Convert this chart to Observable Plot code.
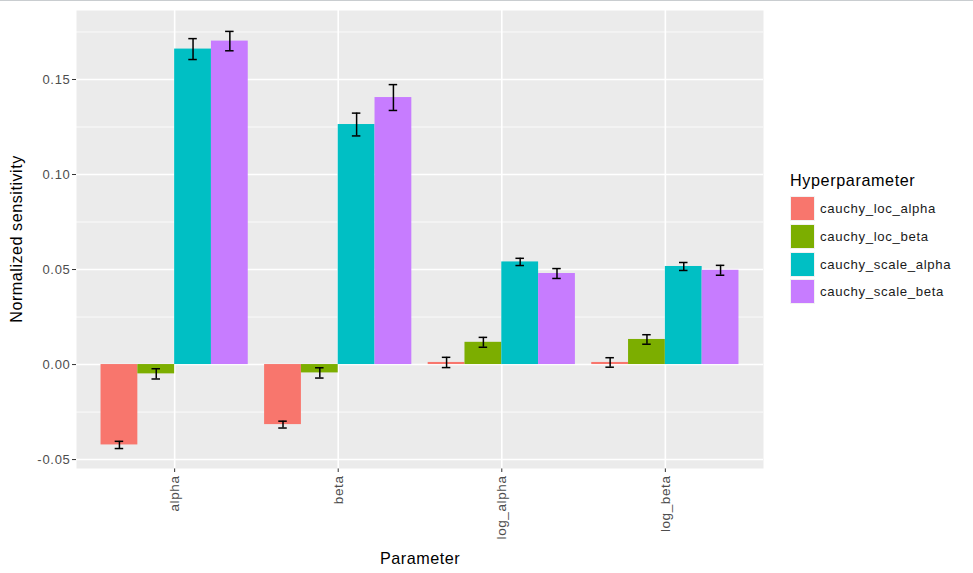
<!DOCTYPE html>
<html>
<head>
<meta charset="utf-8">
<script src="https://cdn.jsdelivr.net/npm/d3@7"></script>
<script src="https://cdn.jsdelivr.net/npm/@observablehq/plot@0.6"></script>
<style>
  html, body { margin: 0; padding: 0; background: #fff; }
  body { width: 973px; height: 573px; position: relative; overflow: hidden; font-family: "Liberation Sans", Arial, sans-serif; }
  #topline { position: absolute; left: 0; top: 0; width: 973px; height: 1px; background: #c9cdd0; }
  #chart { position: absolute; left: 0; top: 0; }
  #chart svg text { fill: #4D4D4D; font-size: 13px; letter-spacing: 0.7px; }
  #chart svg g[aria-label^='x-axis'] text { font-size: 13.5px; letter-spacing: 0.6px; }
  .title { position: absolute; color: #000; font-size: 16.2px; letter-spacing: 0.5px; white-space: nowrap; }
  #ytitle { left: 16px; top: 239px; transform: translate(-50%, -50%) rotate(-90deg); }
  #xtitle { left: 420px; top: 558px; transform: translate(-50%, -50%); }
  #legend { position: absolute; left: 790px; top: 171px; }
  #legend .lt { font-size: 16.2px; letter-spacing: 0.6px; color: #000; margin-bottom: 5px; }
  #legend .row { display: flex; align-items: center; height: 27.7px; }
  #legend .key { width: 25px; height: 25px; margin-right: 5px; box-sizing: border-box; border: 1px solid #f2f2f2; }
  #legend .lab { font-size: 13.2px; letter-spacing: 0.65px; color: #1a1a1a; }
</style>
</head>
<body>
<div id="topline"></div>
<div id="chart"></div>
<div class="title" id="ytitle">Normalized sensitivity</div>
<div class="title" id="xtitle">Parameter</div>
<div id="legend"></div>
<script>
const params = ["alpha", "beta", "log_alpha", "log_beta"];
const hypers = ["cauchy_loc_alpha", "cauchy_loc_beta", "cauchy_scale_alpha", "cauchy_scale_beta"];
const colors = ["#F8766D", "#7CAE00", "#00BFC4", "#C77CFF"];

const locAlpha = [-0.0423, -0.0316, 0.0011, 0.0011];
const locBeta = [-0.0049, -0.0044, 0.0117, 0.0132];
const scaleAlpha = [0.1660, 0.1263, 0.0540, 0.0516];
const scaleBeta = [0.1702, 0.1405, 0.0479, 0.0496];

const errLocAlpha = [0.0019, 0.0018, 0.0027, 0.0025];
const errLocBeta = [0.0027, 0.0027, 0.0026, 0.0025];
const errScaleAlpha = [0.0055, 0.0060, 0.0019, 0.0021];
const errScaleBeta = [0.0051, 0.0068, 0.0026, 0.0026];

const yMajor = [-0.05, 0, 0.05, 0.10, 0.15];
const yMinor = [-0.025, 0.025, 0.075, 0.125, 0.175];

const series = [locAlpha, locBeta, scaleAlpha, scaleBeta];
const errs = [errLocAlpha, errLocBeta, errScaleAlpha, errScaleBeta];

// dodge layout: 4 bars filling 0.9 of each category slot
const barW = 0.9 / hypers.length;
const data = [];
hypers.forEach((h, hi) => {
  params.forEach((p, pi) => {
    const c = pi + (hi - (hypers.length - 1) / 2) * barW;
    data.push({
      param: p, hyper: h, value: series[hi][pi], err: errs[hi][pi],
      x1: c - barW / 2, x2: c + barW / 2, xc: c
    });
  });
});

const capHalf = 0.026;

const chart = Plot.plot({
  width: 973,
  height: 573,
  marginLeft: 76,
  marginRight: 210,
  marginTop: 10,
  marginBottom: 105,
  style: { fontFamily: "'Liberation Sans', Arial, sans-serif", fontSize: "13px", background: "transparent", overflow: "visible" },
  x: {
    type: "linear",
    domain: [-0.6, params.length - 1 + 0.6],
    ticks: d3.range(params.length),
    tickFormat: i => params[i],
    tickRotate: -90,
    tickSize: 4,
    tickPadding: 3,
    label: null
  },
  y: {
    domain: [-0.0547, 0.1863],
    ticks: yMajor,
    tickFormat: d => d.toFixed(2),
    tickSize: 4,
    tickPadding: 2,
    label: null
  },
  color: { domain: hypers, range: colors },
  marks: [
    Plot.frame({ fill: "#EBEBEB", stroke: null }),
    Plot.ruleY(yMinor, { stroke: "#fff", strokeWidth: 0.8 }),
    Plot.ruleY(yMajor, { stroke: "#fff", strokeWidth: 1.6 }),
    Plot.ruleX(d3.range(params.length), { stroke: "#fff", strokeWidth: 1.6 }),
    Plot.rectY(data, { x1: "x1", x2: "x2", y1: 0, y2: "value", fill: d => d.hyper }),
    Plot.ruleX(data, { x: "xc", y1: d => d.value - d.err, y2: d => d.value + d.err, stroke: "#000", strokeWidth: 1.5 }),
    Plot.ruleY(data, { y: d => d.value - d.err, x1: d => d.xc - capHalf, x2: d => d.xc + capHalf, stroke: "#000", strokeWidth: 1.5 }),
    Plot.ruleY(data, { y: d => d.value + d.err, x1: d => d.xc - capHalf, x2: d => d.xc + capHalf, stroke: "#000", strokeWidth: 1.5 })
  ]
});

chart.querySelectorAll("[aria-label='x-axis tick'], [aria-label='y-axis tick']").forEach(g => {
  g.setAttribute("stroke", "#333");
});
document.getElementById("chart").appendChild(chart);

const legend = document.getElementById("legend");
legend.innerHTML = `<div class="lt">Hyperparameter</div>` +
  hypers.map((h, i) => `<div class="row"><div class="key" style="background:${colors[i]}"></div><div class="lab">${h}</div></div>`).join("");
</script>
</body>
</html>
